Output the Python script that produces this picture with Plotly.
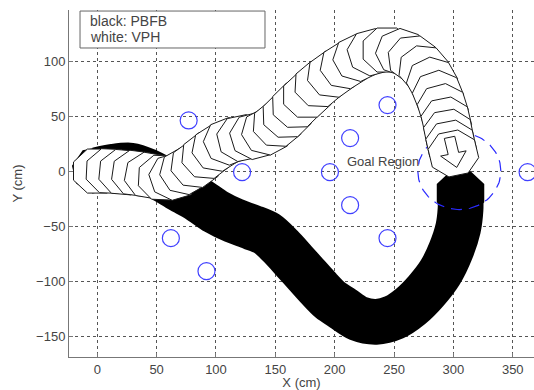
import numpy as np
import plotly.graph_objects as go

# Robot centre poses along the VPH path (cm)
vph_x = [0, 11, 22, 33, 44, 55, 65, 74, 83, 92, 101, 111, 122, 133, 143, 152, 160, 168,
         177, 187, 198, 209, 220, 232, 244, 256, 266, 275, 282, 287, 291, 294, 296, 298, 300]
vph_y = [0, 0, -1, -2, -4, -6, -5, 0, 6, 14, 21, 27, 30, 32, 36, 43, 51, 60,
         69, 79, 88, 96, 103, 108, 110, 108, 102, 93, 82, 70, 58, 46, 35, 25, 16]

# Robot centre poses along the PBFB path (cm)
pbfb_x = [0, 14, 28, 42, 56, 70, 85, 100, 115, 130, 143, 155, 166, 176, 186, 196, 207,
          220, 235, 250, 264, 277, 289, 298, 304, 306, 306]
pbfb_y = [1, 4, 5, 0, -8, -17, -26, -37, -45, -51, -57, -69, -82, -94, -106, -117, -125,
          -134, -137, -133, -123, -109, -92, -72, -52, -35, -20]

# Obstacles (cm)
obs_x = [62, 92, 77, 122, 196, 213, 213, 244.5, 244.5, 362.5]
obs_y = [-61, -91, 46, -1, -1, 30, -31, 60, -61, -1]

# Goal region
goal_x, goal_y, goal_r = 305, 0, 35

x_ticks = [0, 50, 100, 150, 200, 250, 300, 350]
y_ticks = [-150, -100, -50, 0, 50, 100]

X_RANGE = [-23.8, 367.9]
Y_RANGE = [-169, 146.4]
PLOT_W, PLOT_H = 465, 347
ROBOT_APOTHEM = 20.0


def headings(xs, ys):
    xs, ys = np.asarray(xs, float), np.asarray(ys, float)
    return np.arctan2(np.gradient(ys), np.gradient(xs))


def polygon(cx, cy, th, n, apothem):
    r = apothem / np.cos(np.pi / n)
    a = th + np.pi / n + np.arange(n + 1) * 2 * np.pi / n
    return list(cx + r * np.cos(a)), list(cy + r * np.sin(a))


def local_to_world(cx, cy, th, pts):
    c, s = np.cos(th), np.sin(th)
    xs = [cx + u * c - v * s for u, v in pts]
    ys = [cy + u * s + v * c for u, v in pts]
    return xs, ys


fig = go.Figure()

# PBFB: swept robot body, filled black
px_per_cm = 0.5 * (PLOT_W / (X_RANGE[1] - X_RANGE[0]) + PLOT_H / (Y_RANGE[1] - Y_RANGE[0]))
fig.add_trace(go.Scatter(x=pbfb_x, y=pbfb_y, mode="lines",
                         line=dict(color="black", width=2 * ROBOT_APOTHEM * px_per_cm,
                                   shape="spline", smoothing=0.8),
                         hoverinfo="skip", showlegend=False))
bth = headings(pbfb_x, pbfb_y)
bx, by = [], []
for i in (0, len(pbfb_x) - 1):
    ox, oy = polygon(pbfb_x[i], pbfb_y[i], bth[i], 8, ROBOT_APOTHEM)
    bx += ox + [None]
    by += oy + [None]
fig.add_trace(go.Scatter(x=bx, y=by, mode="lines", fill="toself", fillcolor="black",
                         line=dict(color="black", width=0), hoverinfo="skip",
                         showlegend=False))

# Goal region (dashed circle)
t = np.linspace(0, 2 * np.pi, 121)
fig.add_trace(go.Scatter(x=goal_x + goal_r * np.cos(t), y=goal_y + goal_r * np.sin(t),
                         mode="lines", line=dict(color="#2a2aff", width=1.2, dash="11px,7px"),
                         hoverinfo="skip", showlegend=False))

# VPH: successive white octagonal footprints with black outline
vth = headings(vph_x, vph_y)
for cx, cy, th in zip(vph_x, vph_y, vth):
    ox, oy = polygon(cx, cy, th, 8, ROBOT_APOTHEM)
    fig.add_trace(go.Scatter(x=ox, y=oy, mode="lines", fill="toself", fillcolor="white",
                             line=dict(color="#1a1a1a", width=1), hoverinfo="skip",
                             showlegend=False))

# Heading arrow on the final VPH pose
arrow_local = [(-15, -4.5), (0, -4.5), (0, -11), (13, 0), (0, 11), (0, 4.5), (-15, 4.5), (-15, -4.5)]
ax_, ay_ = local_to_world(vph_x[-1], vph_y[-1], vth[-1], arrow_local)
fig.add_trace(go.Scatter(x=ax_, y=ay_, mode="lines", line=dict(color="#1a1a1a", width=1),
                         hoverinfo="skip", showlegend=False))

# Obstacles
fig.add_trace(go.Scatter(x=obs_x, y=obs_y, mode="markers",
                         marker=dict(symbol="circle-open", size=17,
                                     line=dict(color="#4040ff", width=1.2), color="#4040ff"),
                         hoverinfo="skip", showlegend=False))

fig.add_annotation(x=241, y=9, xref="x", yref="y", text="Goal Region", showarrow=False,
                   font=dict(family="Liberation Sans", size=13, color="#444"))

# Key box
fig.add_shape(type="rect", xref="paper", yref="paper", x0=0.0237, x1=0.4215, y0=0.8905, y1=0.997,
              line=dict(color="#666", width=1), fillcolor="white", layer="above")
fig.add_annotation(xref="paper", yref="paper", x=0.040, y=0.968, xanchor="left", yanchor="middle",
                   text="black: PBFB", showarrow=False,
                   font=dict(family="Liberation Sans", size=14, color="#444"))
fig.add_annotation(xref="paper", yref="paper", x=0.040, y=0.922, xanchor="left", yanchor="middle",
                   text="white: VPH", showarrow=False,
                   font=dict(family="Liberation Sans", size=14, color="#444"))

axis_font = dict(family="Liberation Sans", size=13, color="#444")
fig.update_xaxes(range=X_RANGE, tickvals=x_ticks, showgrid=True, gridcolor="#555",
                 gridwidth=1, griddash="3px,3px", zeroline=False, showline=True,
                 linecolor="#777", linewidth=1, ticks="inside", ticklen=4, tickcolor="#777",
                 tickfont=axis_font, title=dict(text="X (cm)", font=axis_font, standoff=5))
fig.update_yaxes(range=Y_RANGE, tickvals=y_ticks, showgrid=True, gridcolor="#555",
                 gridwidth=1, griddash="3px,3px", zeroline=False, showline=True,
                 linecolor="#777", linewidth=1, ticks="inside", ticklen=4, tickcolor="#777",
                 tickfont=axis_font, title=dict(text="Y (cm)", font=axis_font, standoff=10))

fig.update_layout(width=534, height=390, margin=dict(l=69, r=0, t=10, b=33),
                  plot_bgcolor="white", paper_bgcolor="white", showlegend=False,
                  font=dict(family="Liberation Sans"))

fig.write_html("out.html")
